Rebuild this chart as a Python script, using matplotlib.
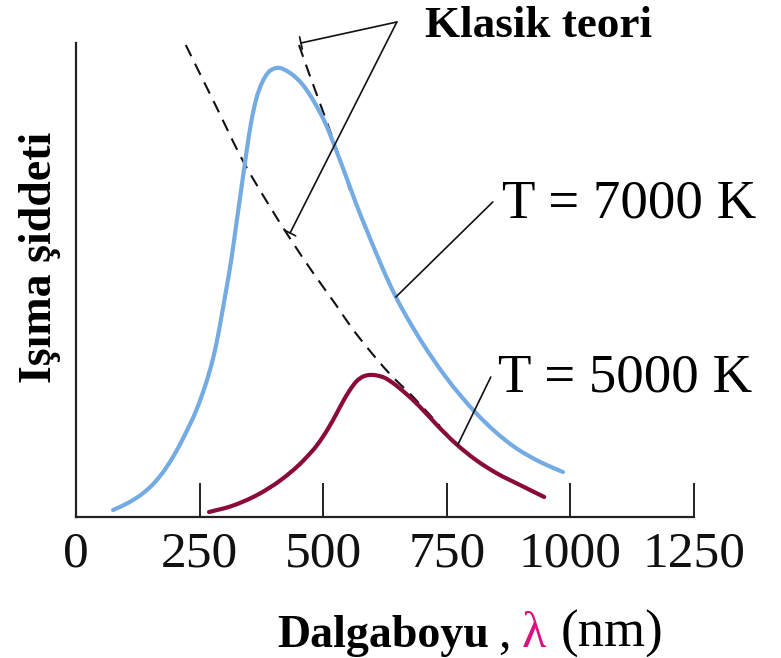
import matplotlib
matplotlib.use("Agg")
import matplotlib.pyplot as plt
from matplotlib.path import Path
from matplotlib.patches import PathPatch

# ---- data (x: wavelength nm, y: relative intensity) ----
t7000_x = [75, 105, 136, 160, 182, 202, 222, 241, 257, 271, 283, 293, 303, 314, 324,
           334, 344, 354, 364, 376, 388, 405, 433, 459, 483, 506, 526, 546, 566, 587,
           607, 627, 647, 676, 702, 748, 809, 884, 939, 985]
t7000_y = [7, 14, 24, 35, 49, 65, 84, 104, 125, 147, 171, 197, 225, 257, 292,
           327, 362, 394, 417, 434, 444, 449, 444, 432, 414, 392, 367, 341, 314, 288,
           264, 241, 220, 194, 173, 140, 104, 71, 55, 45]

t5000_x = [269, 312, 370, 413, 459, 490, 510, 526, 540, 554, 568, 581, 593, 609, 625,
           641, 666, 694, 730, 769, 809, 850, 898, 947]
t5000_y = [5, 10.5, 23, 36.5, 56, 73.5, 88.5, 102.5, 115.5, 127, 136, 140.5, 142, 141.5, 139,
           134, 124, 111, 92, 73, 57, 44, 32, 20]

classic_a_x = [222, 281, 340, 384, 431, 477, 526, 558, 593, 633, 682, 736]
classic_a_y = [472, 413, 354, 317, 280, 246, 212, 189, 167, 144, 120, 91]

classic_b_x = [451, 471, 491, 526, 554]
classic_b_y = [472, 444, 417, 369, 327]

xticks = [0, 250, 500, 750, 1000, 1250]
xticklabels = ["0", "250", "500", "750", "1000", "1250"]

label_classic = "Klasik teori"
label_7000 = "T = 7000 K"
label_5000 = "T = 5000 K"
ylabel = "Işıma şiddeti"


def smooth_path(xs, ys):
    """Cubic Hermite (Bezier) path through the given points, y as a function of x."""
    n = len(xs)
    h = [xs[i + 1] - xs[i] for i in range(n - 1)]
    d = [(ys[i + 1] - ys[i]) / h[i] for i in range(n - 1)]
    m = [d[0]]
    for i in range(1, n - 1):
        m.append((d[i] * h[i - 1] + d[i - 1] * h[i]) / (h[i - 1] + h[i]))
    m.append(d[-1])
    verts = [(xs[0], ys[0])]
    codes = [Path.MOVETO]
    for i in range(n - 1):
        c1 = (xs[i] + h[i] / 3, ys[i] + m[i] * h[i] / 3)
        c2 = (xs[i + 1] - h[i] / 3, ys[i + 1] - m[i + 1] * h[i] / 3)
        verts += [c1, c2, (xs[i + 1], ys[i + 1])]
        codes += [Path.CURVE4] * 3
    return Path(verts, codes)


# ---- figure ----
W, H = 781, 658
plt.rcParams['font.family'] = ['Liberation Serif', 'DejaVu Serif']
fig = plt.figure(figsize=(W / 100, H / 100), dpi=100)
ax = fig.add_axes([76 / W, 1 - 517 / H, (694 - 76) / W, (517 - 43) / H])

blue = '#74abe3'
red = '#8a0a3a'

ax.add_patch(PathPatch(smooth_path(t7000_x, t7000_y), fill=False, edgecolor=blue,
                       lw=3.0, capstyle='round', zorder=3))
ax.add_patch(PathPatch(smooth_path(t5000_x, t5000_y), fill=False, edgecolor=red,
                       lw=3.0, capstyle='round', zorder=3))
ax.add_patch(PathPatch(smooth_path(classic_a_x, classic_a_y), fill=False,
                       edgecolor='#111111', lw=1.5, ls=(0, (6, 4)), zorder=2))
ax.add_patch(PathPatch(smooth_path(classic_b_x, classic_b_y), fill=False,
                       edgecolor='#111111', lw=1.5, ls=(0, (6, 4)), zorder=2))

ax.set_xlim(0, 1250)
ax.set_ylim(0, 474)
ax.set_xticks(xticks)
ax.set_xticklabels(xticklabels, fontsize=37)
ax.set_yticks([])
ax.tick_params(axis='x', direction='in', length=24.5, width=1.3, pad=10, colors='#111111')
for s in ['top', 'right']:
    ax.spines[s].set_visible(False)
for s in ['left', 'bottom']:
    ax.spines[s].set_linewidth(1.6)
    ax.spines[s].set_color('#222222')

# annotation leader lines
bar = dict(arrowstyle='|-|,widthA=0,widthB=0.45', lw=1.2, color='#111111',
           shrinkA=0, shrinkB=0, mutation_scale=10)
plain = dict(arrowstyle='-', lw=1.2, color='#111111', shrinkA=0, shrinkB=0)
ax.annotate('', xy=(455, 474), xytext=(649, 495), arrowprops=bar, annotation_clip=False)
ax.annotate('', xy=(433, 284), xytext=(649, 495), arrowprops=bar, annotation_clip=False)
ax.annotate('', xy=(647, 220), xytext=(843, 315), arrowprops=plain, annotation_clip=False)
ax.annotate('', xy=(772, 72), xytext=(839, 140), arrowprops=plain, annotation_clip=False)

ax.text(706, 480, label_classic, fontsize=32.5, fontweight='bold', ha='left', va='baseline',
        clip_on=False)
ax.text(862, 300, label_7000, fontsize=39.5, ha='left', va='baseline', clip_on=False)
ax.text(854, 125, label_5000, fontsize=39.5, ha='left', va='baseline', clip_on=False)

# y label
fig.text(40 / W, 1 - 257 / H, ylabel, rotation=90, fontsize=33, fontweight='bold',
         ha='center', va='center')

# x label in pieces
yb = 1 - 647 / H
fig.text(277 / W, yb, "Dalgaboyu", fontsize=33, fontweight='bold', ha='left', va='baseline')
fig.text(498 / W, yb, ",", fontsize=36, ha='left', va='baseline')
fig.text(522 / W, yb, "λ", fontsize=36, color='#d8127e', ha='left', va='baseline')
fig.text(561 / W, yb, "(nm)", fontsize=38, ha='left', va='baseline')

fig.savefig('out.png', dpi=100)
